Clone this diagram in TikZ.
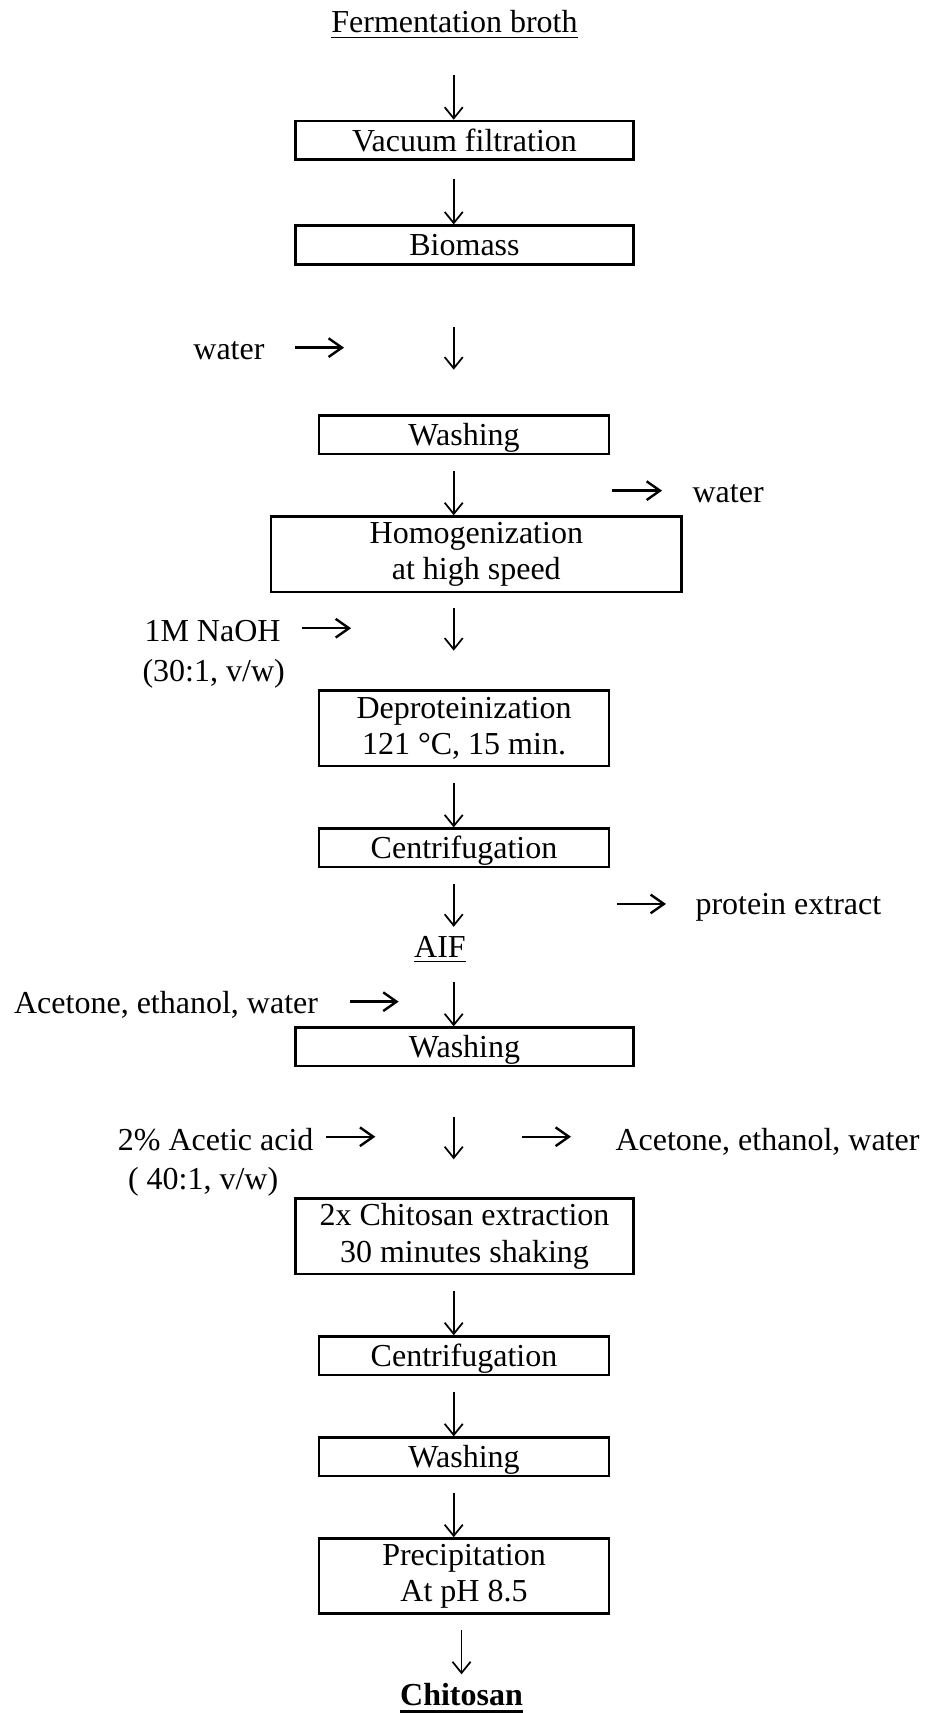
\documentclass[tikz,border=0pt]{standalone}
\usepackage{fontspec}
\setmainfont{Liberation Serif}
\usetikzlibrary{arrows.meta}

\newcommand{\boldul}[1]{\vtop{\hbox{#1}\kern1.6pt\hrule height 1.1pt}}

\begin{document}
\begin{tikzpicture}[font=\fontsize{12}{13.7}\selectfont,
        box/.style={draw, line width=1pt, inner sep=0pt, align=center, minimum height=0.506cm},
        wide/.style={minimum width=4.455cm},
        narrow/.style={minimum width=3.822cm},
        tall/.style={minimum height=0.992cm},
        oneline/.style={text height=9.2pt, text depth=1pt},
        lbl/.style={inner sep=0pt},
        flow/.style={line width=0.65pt, -{Straight Barb[length=4.2pt, width=6.8pt]}},
        side/.style={line width=0.9pt, -{Straight Barb[length=5pt, width=7pt]}}]
        \useasboundingbox (0,0) rectangle (12.192,22.577);
        \coordinate (col) at (5.980,0);

        % start and end products
        \node[lbl, anchor=base] (ferm) at (5.990,22.142) {\underline{Fermentation broth}};
        \node[lbl, anchor=base] (aif) at (5.799,9.951) {\underline{AIF}};
        \node[lbl, anchor=base] (chit) at (6.083,0.105) {\boldul{\textbf{Chitosan}}};

        % process steps
        \node[box, wide, oneline] (vac) at (6.122,20.728) {Vacuum filtration};
        \node[box, wide, oneline] (bio) at (6.122,19.348) {Biomass};
        \node[box, narrow, oneline] (wsh1) at (6.116,16.845) {Washing};
        \node[box, tall, minimum width=5.410cm] (hom) at (6.278,15.272) {Homogenization\\at high speed};
        \node[box, narrow, tall] (dep) at (6.116,12.978) {Deproteinization\\ 121 °C, 15 min.};
        \node[box, narrow, oneline] (cen1) at (6.116,11.401) {Centrifugation};
        \node[box, wide, oneline] (wsh2) at (6.122,8.779) {Washing};
        \node[box, wide, tall] (ext) at (6.122,6.283) {2x Chitosan extraction\\30 minutes shaking};
        \node[box, narrow, oneline] (cen2) at (6.116,4.708) {Centrifugation};
        \node[box, narrow, oneline] (wsh3) at (6.116,3.375) {Washing};
        \node[box, narrow, tall] (pre) at (6.116,1.803) {Precipitation\\At pH 8.5};

        % side inputs and outputs
        \node[lbl, anchor=base east] (win) at (3.493,17.833) {water};
        \node[lbl, anchor=base west] (wout) at (9.121,15.952) {water};
        \node[lbl, anchor=base west] (naoh) at (1.898,14.120) {1M NaOH};
        \node[lbl, anchor=base west] (ratio1) at (1.872,13.593) {(30:1, v/w)};
        \node[lbl, anchor=base west] (prot) at (9.160,10.518) {protein extract};
        \node[lbl, anchor=base east] (acel) at (4.198,9.213) {Acetone, ethanol, water};
        \node[lbl, anchor=base east] (acid) at (4.138,7.420) {2\% Acetic acid};
        \node[lbl, anchor=base west] (acer) at (8.106,7.420) {Acetone, ethanol, water};
        \node[lbl, anchor=base west] (ratio2) at (1.680,6.893) {( 40:1, v/w)};

        % main flow
        \draw[flow, shorten <=0.474cm] (ferm.south -| col) -- (vac.north -| col);
        \draw[flow, shorten <=0.237cm] (vac.south -| col) -- (bio.north -| col);
        \draw[flow, shorten <=0.813cm, shorten >=0.589cm] (bio.south -| col) -- (wsh1.north -| col);
        \draw[flow, shorten <=0.211cm] (wsh1.south -| col) -- (hom.north -| col);
        \draw[flow, shorten <=0.198cm, shorten >=0.510cm] (hom.south -| col) -- (dep.north -| col);
        \draw[flow, shorten <=0.207cm] (dep.south -| col) -- (cen1.north -| col);
        \draw[flow, shorten <=0.207cm, shorten >=0.125cm] (cen1.south -| col) -- (aif.north -| col);
        \draw[flow, shorten <=0.233cm] (aif.south -| col) -- (wsh2.north -| col);
        \draw[flow, shorten <=0.655cm, shorten >=0.501cm] (wsh2.south -| col) -- (ext.north -| col);
        \draw[flow, shorten <=0.211cm] (ext.south -| col) -- (cen2.north -| col);
        \draw[flow, shorten <=0.211cm] (cen2.south -| col) -- (wsh3.north -| col);
        \draw[flow, shorten <=0.207cm] (wsh3.south -| col) -- (pre.north -| col);
        \draw[flow, shorten <=0.202cm, shorten >=0.105cm] (pre.south -| chit.north) -- (chit.north);

        % side arrows
        \draw[side] ([shift={(0.395,0.162)}]win.base east) -- ++(0.646,0);
        \draw[side] ([shift={(-1.054,0.158)}]wout.base west) -- ++(0.659,0);
        \draw[side] ([shift={(0.277,0.177)}]naoh.base east) -- ++(0.646,0);
        \draw[side] ([shift={(-1.028,0.145)}]prot.base west) -- ++(0.646,0);
        \draw[side] ([shift={(0.415,0.162)}]acel.base east) -- ++(0.641,0);
        \draw[side] ([shift={(0.158,0.175)}]acid.base east) -- ++(0.651,0);
        \draw[side] ([shift={(-1.226,0.175)}]acer.base west) -- ++(0.646,0);
\end{tikzpicture}
\end{document}
